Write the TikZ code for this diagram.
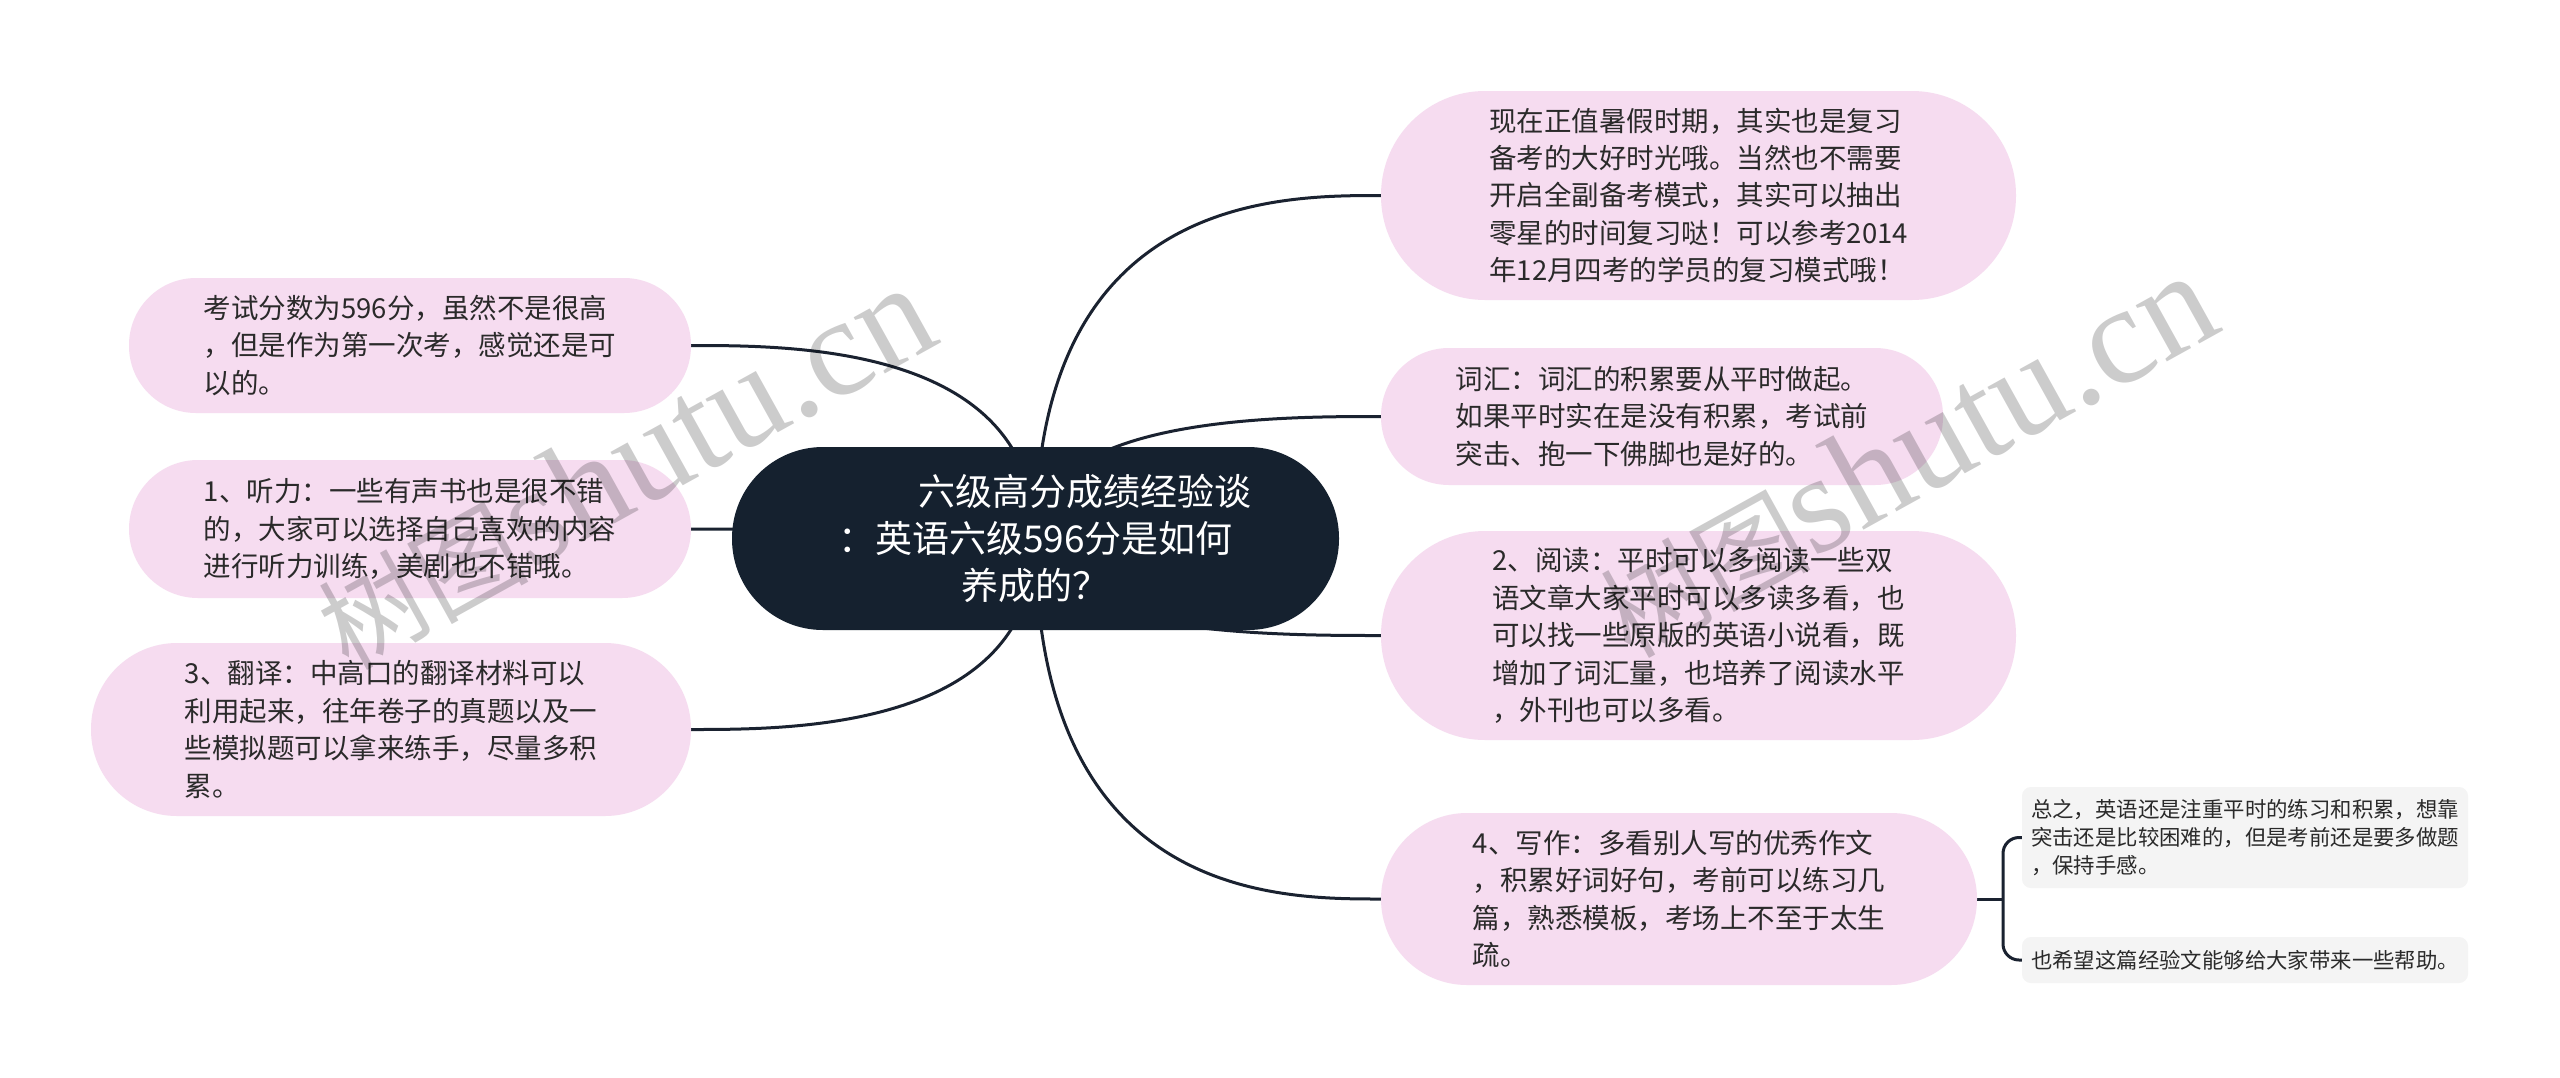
\documentclass[tikz,border=0pt]{standalone}
\usepackage{fontspec}
\setmainfont{Noto Sans CJK SC}
\newfontfamily\wmcjk{Noto Sans CJK SC}
\newfontfamily\wmlat{Liberation Serif}
\usetikzlibrary{calc}
\definecolor{pinkc}{HTML}{F6DCF0}
\definecolor{darkc}{HTML}{15212F}
\definecolor{linec}{HTML}{1A2230}
\definecolor{grayc}{HTML}{F4F4F4}
\definecolor{txtc}{HTML}{2A2A2A}
\pgfdeclarelayer{bg}
\pgfsetlayers{bg,main}
\newcommand\mmconn[2]{\draw[conn] let \p1=(#1), \p2=(#2) in (\p1) .. controls (\x1,\y2) and ({\x1+0.7*(\x2-\x1)},\y2) .. (\p2);}
\begin{document}
\begin{tikzpicture}[x=1pt,y=-1pt,
 conn/.style={draw=linec, line width=3pt},
 pinkbox/.style={rectangle, fill=pinkc, text=txtc, align=left, inner sep=0pt, font=\fontsize{27.5}{37.4}\selectfont},
 centerbox/.style={rectangle, fill=darkc, text=white, align=center, inner sep=0pt, font=\fontsize{37}{47}\selectfont},
 leafbox/.style={rectangle, fill=grayc, text=txtc, align=left, inner sep=0pt, rounded corners=9pt, font=\fontsize{21.4}{27.8}\selectfont},
 wm/.style={text=black, opacity=0.2, rotate=29, anchor=base west, inner sep=0pt},
]
\useasboundingbox (0,0) rectangle (2560,1077);

\node[centerbox, minimum width=607pt, minimum height=183pt, rounded corners=91pt] (c) at (1035.5,538.5) {\hspace*{98pt}六级高分成绩经验谈\\：英语六级596分是如何\\养成的？};

\node[pinkbox, minimum width=635pt, minimum height=209pt, rounded corners=104pt] (n1) at (1698.5,195.5) {现在正值暑假时期，其实也是复习\\备考的大好时光哦。当然也不需要\\开启全副备考模式，其实可以抽出\\零星的时间复习哒！可以参考2014\\年12月四考的学员的复习模式哦！};
\node[pinkbox, minimum width=562pt, minimum height=137pt, rounded corners=68pt] (n2) at (1662,416.5) {词汇：词汇的积累要从平时做起。\\如果平时实在是没有积累，考试前\\突击、抱一下佛脚也是好的。};
\node[pinkbox, minimum width=635pt, minimum height=209pt, rounded corners=104pt] (n3) at (1698.5,635.5) {2、阅读：平时可以多阅读一些双\\语文章大家平时可以多读多看，也\\可以找一些原版的英语小说看，既\\增加了词汇量，也培养了阅读水平\\，外刊也可以多看。};
\node[pinkbox, minimum width=596pt, minimum height=172pt, rounded corners=86pt] (n4) at (1679,899) {4、写作：多看别人写的优秀作文\\，积累好词好句，考前可以练习几\\篇，熟悉模板，考场上不至于太生\\疏。};

\node[pinkbox, minimum width=562pt, minimum height=135pt, rounded corners=67pt] (l1) at (410,345.5) {考试分数为596分，虽然不是很高\\，但是作为第一次考，感觉还是可\\以的。};
\node[pinkbox, minimum width=562pt, minimum height=138pt, rounded corners=69pt] (l2) at (410,529) {1、听力：一些有声书也是很不错\\的，大家可以选择自己喜欢的内容\\进行听力训练，美剧也不错哦。};
\node[pinkbox, minimum width=600pt, minimum height=173pt, rounded corners=86pt] (l3) at (391,729.5) {3、翻译：中高口的翻译材料可以\\利用起来，往年卷子的真题以及一\\些模拟题可以拿来练手，尽量多积\\累。};

\node[leafbox, minimum width=446pt, minimum height=101pt] (g1) at (2245,837.5) {总之，英语还是注重平时的练习和积累，想靠\\突击还是比较困难的，但是考前还是要多做题\\，保持手感。};
\node[leafbox, minimum width=446pt, minimum height=46pt] (g2) at (2245,960) {也希望这篇经验文能够给大家带来一些帮助。};

\coordinate (bx) at (2003,899);

\begin{pgfonlayer}{bg}
\fill[white] (0,0) rectangle (2560,1077);
\mmconn{c.center}{n1.west}
\mmconn{c.center}{n2.west}
\mmconn{c.center}{n3.west}
\mmconn{c.center}{n4.west}
\mmconn{c.center}{l1.east}
\mmconn{c.center}{l2.east}
\mmconn{c.center}{l3.east}
\draw[conn] (n4.east) -- (bx);
\draw[conn, rounded corners=16pt] (g1.west) -| (bx) |- (g2.west);
\end{pgfonlayer}

\node[wm] (wm1) at (348,672) {{\wmcjk\fontsize{105}{105}\selectfont 树图}{\wmlat\fontsize{140}{140}\selectfont shutu.cn}};
\node[wm] (wm2) at (1630,660) {{\wmcjk\fontsize{105}{105}\selectfont 树图}{\wmlat\fontsize{140}{140}\selectfont shutu.cn}};
\end{tikzpicture}
\end{document}
